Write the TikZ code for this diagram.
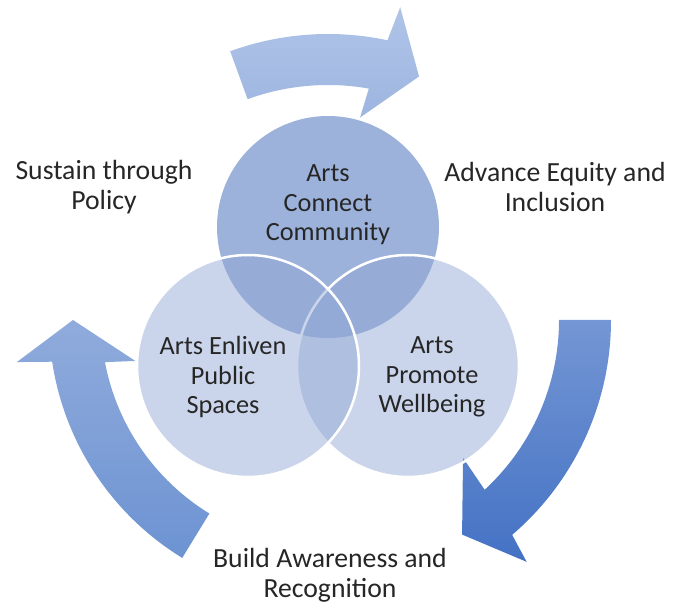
\documentclass[tikz,border=0pt]{standalone}
\usepackage{fontspec}
\setmainfont{Carlito}
\usetikzlibrary{positioning}

\definecolor{circtop}{HTML}{9CB2DA}
\definecolor{circlow}{HTML}{91A7D5}
\definecolor{txt}{HTML}{262626}
\definecolor{arrAtop}{HTML}{B0C4E8}
\definecolor{arrAbot}{HTML}{9DB5E0}
\definecolor{arrBtop}{HTML}{90ABDC}
\definecolor{arrBbot}{HTML}{6D93D2}
\definecolor{arrCtop}{HTML}{7496D4}
\definecolor{arrCbot}{HTML}{4472C4}

\begin{document}
\begin{tikzpicture}[x=1pt, y=1pt,
    circ/.style = {circle, minimum size=222pt, inner sep=0pt},
    lowcirc/.style = {circ, fill=circlow, fill opacity=0.48, draw=white, line width=2.5pt},
    inlbl/.style = {align=center, text=txt, font=\fontsize{26.3}{29.5}\selectfont},
    outlbl/.style = {align=center, text=txt, font=\fontsize{27.7}{30}\selectfont}]
    \useasboundingbox (0,0) rectangle (677,611);

    % curved arrows round the ring centre
    \coordinate (o) at (328,291);
    \begin{scope}[shift={(o)}]
        \shade[top color=arrAtop, bottom color=arrAbot]
            (110:286) arc[start angle=110, end angle=78, radius=286]
            -- (77:321) -- (69.5:260) -- (81:205) -- (80:235)
            arc[start angle=80, end angle=110, radius=235] -- cycle;
        \shade[top color=arrCtop, bottom color=arrCbot]
            (0:283) arc[start angle=0, end angle=-49.4, radius=283]
            -- (-50.6:313) -- (-58:253) -- (-45.6:193) -- (-47.3:231)
            arc[start angle=-47.3, end angle=0, radius=231] -- cycle;
        \shade[top color=arrBtop, bottom color=arrBbot]
            (238.5:279) arc[start angle=238.5, end angle=188.6, radius=279]
            -- (187.7:314) -- (180:255) -- (192:197) -- (190.7:227)
            arc[start angle=190.7, end angle=238.5, radius=227] -- cycle;
    \end{scope}

    % venn circles
    \node[circ, fill=circtop] (connect) at (328,384) {};
    \node[lowcirc] (promote) at (408,245) {};
    \node[lowcirc] (enliven) at (248,245) {};

    \node[inlbl] (connecttxt) at (328,406) {Arts\\Connect\\Community};
    \node[inlbl] (enliventxt) at (223,234) {Arts Enliven\\Public\\Spaces};
    \node[inlbl] (promotetxt) at (432,234) {Arts\\Promote\\Wellbeing};

    \node[outlbl] (sustain) at (104,424) {Sustain through\\Policy};
    \node[outlbl] (advance) at (555,424) {Advance Equity and\\Inclusion};
    \node[outlbl] (build) at (330,36) {Build Awareness and\\Recognition};
\end{tikzpicture}
\end{document}
